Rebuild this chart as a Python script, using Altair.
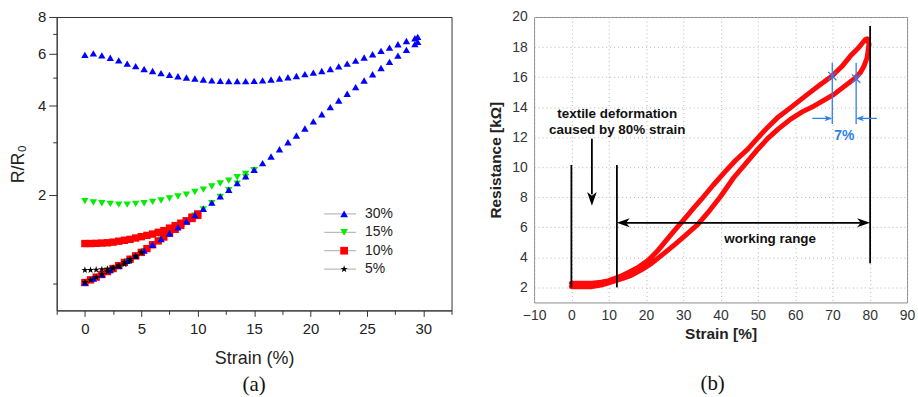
import altair as alt
import pandas as pd

# ---------------- panel (a): R/R0 vs strain ----------------
SERIES = ["30%", "15%", "10%", "5%"]
SERIES_COLORS = ["#0000ff", "#00ee00", "#ff0000", "#000000"]
STAR = ("M0,-1L0.2245,-0.309L0.9511,-0.309L0.3633,0.118L0.5878,0.809L0,0.382"
        "L-0.5878,0.809L-0.3633,0.118L-0.9511,-0.309L-0.2245,-0.309Z")
SERIES_SHAPES = ["triangle-up", "triangle-down", "square", STAR]

STRAIN_A = [0, 0.75, 1.5, 2.25, 3, 3.75, 4.5, 5.25, 6, 6.75, 7.5, 8.25, 9, 9.75,
            10.5, 11.25, 12, 12.75, 13.5, 14.25, 15, 15.75, 16.5, 17.25, 18, 18.75,
            19.5, 20.25, 21, 21.75, 22.5, 23.25, 24, 24.75, 25.5, 26.25, 27, 27.75,
            28.5, 29.25, 29.5]
R30_LOAD = [1.007, 1.039, 1.072, 1.110, 1.149, 1.193, 1.240, 1.292, 1.352, 1.414,
            1.479, 1.548, 1.625, 1.705, 1.790, 1.879, 1.972, 2.078, 2.188, 2.305,
            2.428, 2.558, 2.694, 2.848, 3.010, 3.171, 3.352, 3.543, 3.745, 3.959,
            4.169, 4.392, 4.627, 4.874, 5.116, 5.370, 5.638, 5.918, 6.190, 6.476, 6.59]
R30_UNLOAD = [5.95, 6.02, 5.93, 5.82, 5.70, 5.56, 5.45, 5.33, 5.25, 5.16, 5.09, 5.04,
              4.99, 4.95, 4.91, 4.88, 4.86, 4.85, 4.85, 4.85, 4.86, 4.88, 4.91, 4.95,
              5.00, 5.05, 5.12, 5.18, 5.25, 5.33, 5.44, 5.56, 5.69, 5.83, 5.98, 6.14,
              6.30, 6.47, 6.63, 6.78, 6.85]

STRAIN_15 = [0, 0.75, 1.5, 2.25, 3, 3.75, 4.5, 5.25, 6, 6.75, 7.5, 8.25, 9, 9.75,
             10.5, 11.25, 12, 12.75, 13.5, 14.25, 15]
R15_UP = [1.90, 1.88, 1.87, 1.86, 1.85, 1.85, 1.86, 1.87, 1.89, 1.91, 1.94, 1.97,
          2.00, 2.04, 2.08, 2.13, 2.18, 2.23, 2.29, 2.35, 2.42]
R15_LOW = [1.000, 1.032, 1.066, 1.104, 1.143, 1.187, 1.234, 1.286, 1.346, 1.408,
           1.473, 1.542, 1.618, 1.698, 1.782, 1.870, 1.963, 2.068, 2.178, 2.295, 2.42]

STRAIN_10 = [0, 0.5, 1, 1.5, 2, 2.5, 3, 3.5, 4, 4.5, 5, 5.5, 6, 6.5, 7, 7.5, 8, 8.5,
             9, 9.5, 10]
R10_UP = [1.365, 1.365, 1.367, 1.370, 1.373, 1.380, 1.390, 1.400, 1.410, 1.425, 1.440,
          1.455, 1.470, 1.490, 1.510, 1.540, 1.570, 1.600, 1.630, 1.660, 1.700]
R10_LOW = [1.007, 1.028, 1.050, 1.072, 1.097, 1.123, 1.149, 1.178, 1.208, 1.240, 1.274,
           1.312, 1.352, 1.393, 1.436, 1.479, 1.525, 1.573, 1.625, 1.678, 1.720]

STRAIN_5 = [0, 0.5, 1, 1.5, 2, 2.5, 3, 3.5, 4, 4.5, 5]
R5_UP = [1.110, 1.110, 1.112, 1.115, 1.120, 1.130, 1.140, 1.160, 1.190, 1.230, 1.270]
R5_LOW = [1.007, 1.028, 1.050, 1.072, 1.097, 1.123, 1.149, 1.178, 1.208, 1.240, 1.274]

X_TICKS_A = [-2.5, 0, 2.5, 5, 7.5, 10, 12.5, 15, 17.5, 20, 22.5, 25, 27.5, 30, 32.5]
Y_TICKS_A = [1, 2, 3, 4, 5, 6, 7, 8]

rows = []
def add(series, xs, ys):
    for x, y in zip(xs, ys):
        rows.append({"strain": x, "ratio": y, "series": series})

# drawing order: green, red, blue, black
add("15%", STRAIN_15, R15_LOW)
add("15%", STRAIN_15, R15_UP)
add("10%", STRAIN_10, R10_LOW)
add("10%", STRAIN_10, R10_UP)
add("30%", STRAIN_A, R30_LOAD)
add("30%", STRAIN_A, R30_UNLOAD)
add("5%", STRAIN_5, R5_LOW)
add("5%", STRAIN_5, R5_UP)
df_a = pd.DataFrame(rows)

FONT = "Liberation Sans"

leg = alt.Legend(
    title=None, orient="none", legendX=282, legendY=191, direction="vertical",
    labelFont=FONT, labelFontSize=14, labelColor="#222", symbolSize=60,
    rowPadding=4.5, padding=0, labelOffset=14, symbolStrokeWidth=0,
    labelExpr="datum.label == '5%' ? '\u2007\u20075%' : datum.label",
)

points_a = alt.Chart(df_a).mark_point(filled=True, opacity=1, size=55, strokeWidth=0).encode(
    x=alt.X("strain:Q",
            scale=alt.Scale(domain=[-2.5, 32.5], nice=False, zero=False),
            axis=alt.Axis(values=X_TICKS_A, title="Strain (%)",
                          labelExpr="datum.value % 5 == 0 ? datum.label : ''",
                          labelFont=FONT, labelFontSize=15, labelColor="#222",
                          titleFont=FONT, titleFontSize=18, titleFontWeight="normal",
                          titleColor="#222", titlePadding=13, labelPadding=5,
                          labelOverlap=False,
                          tickSize={"condition": {"test": "datum.value % 5 == 0", "value": 6}, "value": 4},
                          tickColor="#333", domainColor="#333", grid=False, labelFlush=False)),
    y=alt.Y("ratio:Q",
            scale=alt.Scale(type="log", domain=[0.81, 8], nice=False),
            axis=alt.Axis(values=Y_TICKS_A, format="d", title="R/R\u2080",
                          labelExpr="datum.value % 2 == 0 ? datum.label : ''",
                          labelFont=FONT, labelFontSize=15, labelColor="#222",
                          titleFont=FONT, titleFontSize=18, titleFontWeight="normal",
                          titleColor="#222", titlePadding=10, labelPadding=3,
                          labelOverlap=False,
                          tickSize={"condition": {"test": "datum.value % 2 == 0", "value": 8}, "value": 4},
                          tickColor="#333", domainColor="#333", grid=False)),
    color=alt.Color("series:N", scale=alt.Scale(domain=SERIES, range=SERIES_COLORS), legend=leg),
    shape=alt.Shape("series:N", scale=alt.Scale(domain=SERIES, range=SERIES_SHAPES), legend=leg),
)

# gray segments behind legend symbols
LEG_ROWS = 4
seg_layers = []
for i in range(LEG_ROWS):
    seg_layers.append(
        alt.Chart(pd.DataFrame({"k": [0]})).mark_rule(color="#aaaaaa", strokeWidth=1).encode(
            x=alt.value(269), x2=alt.value(301), y=alt.value(198 + i * 18.5)
        )
    )

panel_a = alt.layer(*seg_layers, points_a).properties(
    width=397, height=295,
    view=alt.ViewBackground(stroke="#333333", strokeWidth=1),
    title=alt.TitleParams("(a)", orient="bottom", font="Liberation Serif", fontSize=21,
                          fontWeight="normal", color="#111", offset=7, frame="group",
                          anchor="middle"),
)

# ---------------- panel (b): resistance vs strain ----------------
LOAD_S = [0, 3, 5.5, 8, 10, 11.7, 14, 16.2, 19, 21.5, 24.5, 27.7, 30.5, 33.9, 37, 40,
          43.5, 47.3, 50, 52.6, 55.5, 58.8, 62, 65.1, 68, 70.4, 73, 76.2, 77.5, 78.4,
          79.3, 79.8]
LOAD_R = [2.05, 2.05, 2.05, 2.15, 2.3, 2.43, 2.62, 2.82, 3.2, 3.6, 4.2, 4.85, 5.45,
          6.2, 7.1, 8.05, 9.3, 10.4, 11.2, 11.9, 12.55, 13.2, 13.7, 14.08, 14.5, 14.85,
          15.35, 15.96, 16.3, 16.7, 17.3, 18.2]
UNLOAD_S = [79.3, 78.8, 77, 74.8, 72.5, 69.9, 66.5, 63.3, 61, 58.8, 55.5, 52.6, 50,
            47.3, 44, 41.1, 38, 35.3, 33, 30.4, 27.5, 25.1, 23, 20.6, 18, 15.3, 13.5,
            11.7, 10, 8, 5.5, 3, 0]
UNLOAD_R = [18.55, 18.5, 17.95, 17.4, 16.7, 16.07, 15.45, 14.85, 14.4, 13.97, 13.35,
            12.65, 11.95, 11.2, 10.45, 9.67, 8.8, 8.0, 7.35, 6.58, 5.75, 5.03, 4.4,
            3.8, 3.35, 3.0, 2.78, 2.6, 2.45, 2.35, 2.28, 2.27, 2.27]

# black annotation lines: (s, s2, r, r2)
BL_S = [0, 12.2, 80.1, 5.5, 13.5]
BL_S2 = [0, 12.2, 80.1, 5.5, 78.8]
BL_R = [2.0, 2.0, 3.6, 11.9, 6.3]
BL_R2 = [10.15, 10.15, 19.4, 8.2, 6.3]
# blue annotation lines
BU_S = [69.95, 76.35, 64.6, 81.9]
BU_S2 = [69.95, 76.35, 69.5, 76.8]
BU_R = [12.87, 12.87, 13.25, 13.25]
BU_R2 = [16.95, 16.95, 13.25, 13.25]
# arrow heads (centre positions)
HEAD_DOWN = (5.5, 7.9)
HEAD_LEFT = (13.9, 6.3)
HEAD_RIGHT = (78.35, 6.3)
BHEAD_RIGHT = (68.9, 13.25)
BHEAD_LEFT = (77.4, 13.25)
CROSS_S = [69.95, 76.35]
CROSS_R = [16.07, 15.9]
TXT_S = [12.3, 12.3, 53.3]
TXT_R = [13.53, 12.49, 5.25]
TXT = ["textile deformation", "caused by 80% strain", "working range"]
BLUE_TXT = ("7%", 73.2, 12.1)

X_TICKS_B = [-10, 0, 10, 20, 30, 40, 50, 60, 70, 80, 90]
Y_TICKS_B = [2, 4, 6, 8, 10, 12, 14, 16, 18, 20]

BLUE = "#2f7fe8"
ARROW_R = "M1,0L-1,-0.7L-0.45,0L-1,0.7Z"
ARROW_L = "M-1,0L1,-0.7L0.45,0L1,0.7Z"
ARROW_D = "M0,1L-0.7,-1L0,-0.45L0.7,-1Z"
XMARK = "M-1,-1L1,1M-1,1L1,-1"

xs_b = alt.Scale(domain=[-10, 90], nice=False, zero=False)
ys_b = alt.Scale(domain=[1, 20], nice=False, zero=False)
x_axis_b = alt.Axis(
    values=X_TICKS_B, title="Strain [%]", labelFont=FONT, labelFontSize=14, labelColor="#333",
    titleFont=FONT, titleFontSize=15.5, titleFontWeight="bold", titleColor="#222",
    titlePadding=4, labelPadding=6, ticks=False, domain=False, grid=True, labelOverlap=False,
    gridDash=[1, 3], gridColor="#b5b5b5", gridWidth=1, labelFlush=False)
y_axis_b = alt.Axis(
    values=Y_TICKS_B, title="Resistance [k\u03a9]", labelFont=FONT, labelFontSize=14,
    labelColor="#333", titleFont=FONT, titleFontSize=15.5, titleFontWeight="bold",
    titleColor="#222", titlePadding=8, labelPadding=7, ticks=False, domain=False,
    labelOverlap=False,
    grid=True, gridDash=[1, 3], gridColor="#b5b5b5", gridWidth=1, labelFlush=False)

def xb():
    return alt.X("s:Q", scale=xs_b, axis=x_axis_b)

def yb():
    return alt.Y("r:Q", scale=ys_b, axis=y_axis_b)

red_rows = [{"s": s, "r": r, "i": k} for k, (s, r) in enumerate(zip(LOAD_S, LOAD_R))]
red_rows += [{"s": s, "r": r, "i": len(LOAD_S) + k} for k, (s, r) in enumerate(zip(UNLOAD_S, UNLOAD_R))]
df_red = pd.DataFrame(red_rows)

red_line = alt.Chart(df_red).mark_line(color="#ff0a0a", strokeWidth=5, strokeJoin="round",
                                       strokeCap="round").encode(
    x=xb(), y=yb(), order="i:Q")

df_bl = pd.DataFrame({"s": BL_S, "s2": BL_S2, "r": BL_R, "r2": BL_R2})
black_lines = alt.Chart(df_bl).mark_rule(color="#000", strokeWidth=1.8).encode(
    x=xb(), x2="s2:Q", y=yb(), y2="r2:Q")

df_bu = pd.DataFrame({"s": BU_S, "s2": BU_S2, "r": BU_R, "r2": BU_R2})
blue_lines = alt.Chart(df_bu).mark_rule(color=BLUE, strokeWidth=1.3).encode(
    x=xb(), x2="s2:Q", y=yb(), y2="r2:Q")

def head(pos, shape, color, size):
    return alt.Chart(pd.DataFrame({"s": [pos[0]], "r": [pos[1]]})).mark_point(
        shape=shape, filled=True, color=color, size=size, opacity=1, strokeWidth=0).encode(
        x=xb(), y=yb())

heads = [head(HEAD_DOWN, ARROW_D, "#000", 190), head(HEAD_LEFT, ARROW_L, "#000", 170),
         head(HEAD_RIGHT, ARROW_R, "#000", 170), head(BHEAD_RIGHT, ARROW_R, BLUE, 64),
         head(BHEAD_LEFT, ARROW_L, BLUE, 64)]

crosses = alt.Chart(pd.DataFrame({"s": CROSS_S, "r": CROSS_R})).mark_point(
    shape=XMARK, filled=False, color=BLUE, size=70, strokeWidth=1.3, opacity=1).encode(
    x=xb(), y=yb())

texts = alt.Chart(pd.DataFrame({"s": TXT_S, "r": TXT_R, "t": TXT})).mark_text(
    font=FONT, fontSize=13.5, fontWeight="bold", color="#111", align="center",
    baseline="middle").encode(x=xb(), y=yb(), text="t:N")

blue_text = alt.Chart(pd.DataFrame({"s": [BLUE_TXT[1]], "r": [BLUE_TXT[2]], "t": [BLUE_TXT[0]]})).mark_text(
    font=FONT, fontSize=14, fontWeight="bold", color=BLUE, align="center",
    baseline="middle").encode(x=xb(), y=yb(), text="t:N")

panel_b = alt.layer(red_line, black_lines, blue_lines, *heads, crosses, texts, blue_text).properties(
    width=375, height=287,
    view=alt.ViewBackground(stroke="#8a8a8a", strokeWidth=1),
    title=alt.TitleParams("(b)", orient="bottom", font="Liberation Serif", fontSize=21,
                          fontWeight="normal", color="#111", offset=32, frame="group",
                          anchor="middle", dx=-8),
)

chart = alt.hconcat(panel_a, panel_b, spacing=35).resolve_scale(
    color="independent", shape="independent"
).configure(
    padding={"left": 9, "top": 8, "right": 2, "bottom": 2},
    background="white",
)

chart.save("out.html", embed_options={"renderer": "svg", "actions": False})
